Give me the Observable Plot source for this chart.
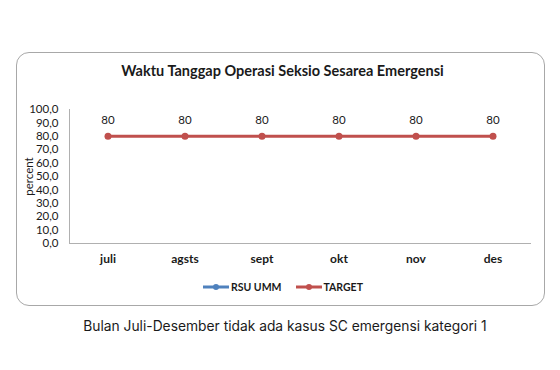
<!DOCTYPE html>
<html>
<head>
<meta charset="utf-8">
<script src="https://cdn.jsdelivr.net/npm/d3@7"></script>
<script src="https://cdn.jsdelivr.net/npm/@observablehq/plot@0.6"></script>
<style>
  html, body { margin: 0; padding: 0; background: #fff; }
  #page { position: relative; width: 560px; height: 370px; overflow: hidden; font-family: Lato, sans-serif; }
  #frame { position: absolute; left: 16px; top: 52px; width: 529px; height: 254px; box-sizing: border-box;
           border: 1.5px solid #a8a8a8; border-radius: 13px; }
  #title { position: absolute; left: 16px; width: 533px; top: 62px; text-align: center;
           font: bold 14.5px Lato, sans-serif; color: #1a1a1a; }
  #chart { position: absolute; left: 0; top: 90px; }
  #legend { position: absolute; top: 280px; left: 203px; height: 14px; display: flex; align-items: center;
            font: bold 10.5px Lato, sans-serif; color: #1a1a1a; }
  #legend .item { display: flex; align-items: center; }
  #legend svg { display: block; margin-right: 2px; }
  #caption { position: absolute; top: 318px; left: 5px; width: 560px; text-align: center;
             font: 13.8px Inter, sans-serif; color: #1a1a1a; }
</style>
</head>
<body>
<div id="page">
  <div id="frame"></div>
  <div id="title"></div>
  <div id="chart"></div>
  <div id="legend"></div>
  <div id="caption"></div>
</div>
<script>
const titleText = "Waktu Tanggap Operasi Seksio Sesarea Emergensi";
const captionText = "Bulan Juli-Desember tidak ada kasus SC emergensi kategori 1";
const months = ["juli", "agsts", "sept", "okt", "nov", "des"];
const targetValues = [80, 80, 80, 80, 80, 80];
const rsuValues = [null, null, null, null, null, null];
const yTicks = [0, 10, 20, 30, 40, 50, 60, 70, 80, 90, 100];
const yLabel = "percent";
const seriesNames = ["RSU UMM", "TARGET"];
const seriesColors = ["#4F81BD", "#C0504D"];

document.getElementById("title").textContent = titleText;
document.getElementById("caption").textContent = captionText;

const target = months.map((m, i) => ({month: m, value: targetValues[i]}));
const rsu = months.map((m, i) => ({month: m, value: rsuValues[i]})).filter(d => d.value != null);

const fmt = d => d.toFixed(1).replace(".", ",");

const chart = Plot.plot({
  width: 560,
  height: 185,
  marginLeft: 69,
  marginRight: 29,
  marginTop: 19,
  marginBottom: 32,
  style: {fontFamily: "Lato, sans-serif", fontSize: "11.5px", color: "#1a1a1a", background: "transparent"},
  x: {type: "band", domain: months, padding: 0, label: null},
  y: {domain: [0, 100], label: null},
  marks: [
    Plot.frame({anchor: "left", stroke: "#b0b0b0"}),
    Plot.ruleY([0], {stroke: "#b0b0b0"}),
    Plot.axisY({ticks: yTicks, tickFormat: fmt, tickSize: 0, tickPadding: 11, label: yLabel, labelArrow: "none",
                labelAnchor: "center", labelOffset: 45, fontSize: 11.5, fill: "#1a1a1a"}),
    Plot.axisX({tickSize: 0, tickPadding: 11, fontWeight: "bold", fontSize: 12, fill: "#1a1a1a", label: null}),
    Plot.line(rsu, {x: "month", y: "value", stroke: seriesColors[0], strokeWidth: 3}),
    Plot.dot(rsu, {x: "month", y: "value", fill: seriesColors[0], r: 3.5}),
    Plot.line(target, {x: "month", y: "value", stroke: seriesColors[1], strokeWidth: 3}),
    Plot.dot(target, {x: "month", y: "value", fill: seriesColors[1], r: 3.5}),
    Plot.text(target, {x: "month", y: "value", text: d => String(d.value), dy: -16, fontSize: 11.5, fill: "#1a1a1a"})
  ]
});
document.getElementById("chart").appendChild(chart);

const legend = document.getElementById("legend");
seriesNames.forEach((name, i) => {
  const item = document.createElement("div");
  item.className = "item";
  if (i > 0) item.style.marginLeft = "14px";
  item.innerHTML = `<svg width="26" height="10"><line x1="0" x2="26" y1="5" y2="5" stroke="${seriesColors[i]}" stroke-width="3"/><circle cx="13" cy="5" r="3" fill="${seriesColors[i]}"/></svg><span>${name}</span>`;
  legend.appendChild(item);
});
</script>
</body>
</html>
